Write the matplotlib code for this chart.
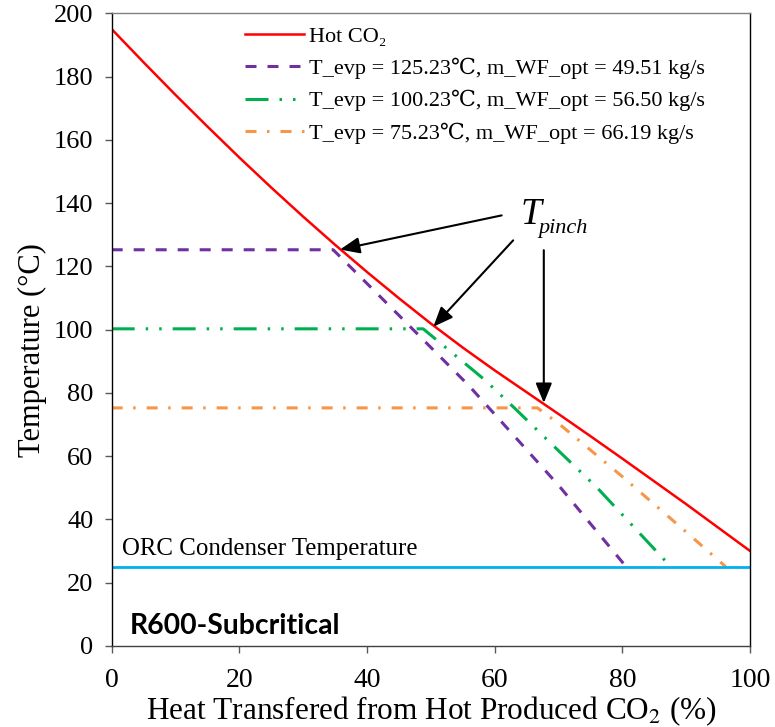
import matplotlib
matplotlib.use("Agg")
import matplotlib.pyplot as plt

plt.rcParams['font.family'] = ['Liberation Serif', 'DejaVu Serif']
plt.rcParams['mathtext.fontset'] = 'stix'
plt.rcParams['lines.scale_dashes'] = False

# Hot CO2 curve
hot_x = [0, 5, 10, 15, 20, 25, 30, 35, 40, 45, 50, 55, 60, 65, 70, 75, 80, 85, 90, 95, 100]
hot_T = [195, 184.5, 174.2, 164.2, 154.4, 144.9, 135.7, 126.8, 118.2, 109.9, 101.9, 94.3,
         87.1, 80.2, 73.3, 66.3, 59.2, 52.0, 44.8, 37.4, 30]

# Working fluid (R600) curves
p_x = [0, 34.7, 45, 55.9, 63, 70.2, 80.6]
p_T = [125.23, 125.23, 104.5, 82.4, 66.5, 50.3, 25]
g_x = [0, 48.8, 58.5, 63.2, 70.2, 76, 87.6]
g_T = [100.23, 100.23, 84, 75, 61.3, 50.1, 25]
o_x = [0, 66.7, 70.2, 80, 90, 96.2]
o_T = [75.23, 75.23, 70, 53.5, 36, 25]

cond_x = [0, 100]
cond_T = [25, 25]

labels = ["Hot CO\u2082",
          "T_evp = 125.23\u2103, m_WF_opt = 49.51 kg/s",
          "T_evp = 100.23\u2103, m_WF_opt = 56.50 kg/s",
          "T_evp = 75.23\u2103, m_WF_opt = 66.19 kg/s"]

pinch_tips = [(35.77, 125.3), (50.4, 100.9), (67.7, 76.8)]
pinch_starts = [(61.1, 136.1), (62.9, 128.2), (67.7, 125.1)]

xticks = [0, 20, 40, 60, 80, 100]
yticks = [0, 20, 40, 60, 80, 100, 120, 140, 160, 180, 200]

fig = plt.figure(figsize=(7.75, 7.27), dpi=100)
ax = fig.add_axes([0.1441, 0.1117, 0.8236, 0.8700])

px = 1 / 1.389  # pixel to points
ax.plot(hot_x, hot_T, color='#FF0000', lw=1.8, label=labels[0])
ax.plot(p_x, p_T, color='#7030A0', lw=2.2, dashes=(11 * px, 11 * px), label=labels[1])
ax.plot(g_x, g_T, color='#00B050', lw=2.2,
        dashes=(23 * px, 11 * px, 2.5 * px, 11 * px, 2.5 * px, 11 * px), label=labels[2])
ax.plot(o_x, o_T, color='#F79646', lw=2.2,
        dashes=(11 * px, 10.5 * px, 2.5 * px, 11 * px), label=labels[3])
ax.plot(cond_x, cond_T, color='#00B0F0', lw=2.0)

ax.set_xlim(0, 100)
ax.set_ylim(0, 200)
ax.set_xticks(xticks)
ax.set_yticks(yticks)
ax.tick_params(direction='out', length=5, width=1, colors='#595959', labelcolor='black', pad=8)
ax.tick_params(axis='y', labelsize=19)
ax.tick_params(axis='x', labelsize=20, pad=11)

for s in ['left', 'right']:
    ax.spines[s].set_color('#000000')
ax.spines['bottom'].set_color('#404040')
ax.spines['top'].set_color('#808080')
for s in ax.spines.values():
    s.set_linewidth(1.0)

ax.set_xlabel("Heat Transfered from Hot Produced CO$_2$ (%)", fontsize=22.5, labelpad=1)
ax.set_ylabel("Temperature (\u00b0C)", fontsize=22)
ax.yaxis.set_label_coords(-0.102, 0.4677)

leg = ax.legend(loc='upper left', bbox_to_anchor=(0.2088, 0.98), frameon=False,
                fontsize=16, handlelength=2.65, handletextpad=0.22, labelspacing=0.5,
                borderpad=0, borderaxespad=0)

for (sx, sy), (tx, ty) in zip(pinch_starts, pinch_tips):
    ax.annotate("", xy=(tx, ty), xytext=(sx, sy),
                arrowprops=dict(arrowstyle='-|>,head_length=0.8,head_width=0.33',
                                mutation_scale=15, color='black', lw=1.5,
                                shrinkA=0, shrinkB=0))

ax.text(64.0, 133.5, "T", fontsize=27, style='italic', ha='left', va='baseline')
ax.text(66.8, 130.4, "pinch", fontsize=16, style='italic', ha='left', va='baseline')
ax.text(1.57, 28.7, "ORC Condenser Temperature", fontsize=17.9, ha='left', va='baseline')
ax.text(2.9, 3.7, "R600-Subcritical", fontsize=20.4, fontweight='bold',
        family=['Lato', 'DejaVu Sans'], ha='left', va='baseline')

fig.savefig("out.png", dpi=100)
